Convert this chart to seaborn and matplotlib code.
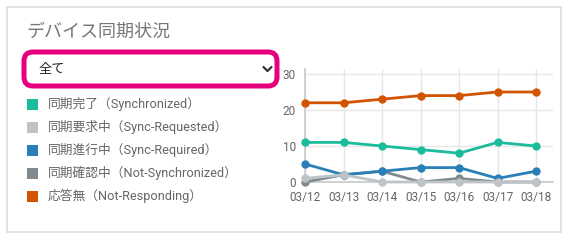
import matplotlib
matplotlib.use("Agg")
import matplotlib.pyplot as plt
import seaborn as sns
import pandas as pd
from matplotlib.patches import FancyBboxPatch, Rectangle

dates = ["03/12", "03/13", "03/14", "03/15", "03/16", "03/17", "03/18"]
series_names = [
    "同期完了（Synchronized）",
    "同期要求中（Sync-Requested）",
    "同期進行中（Sync-Required）",
    "同期確認中（Not-Synchronized）",
    "応答無（Not-Responding）",
]
synchronized = [11, 11, 10, 9, 8, 11, 10]
sync_requested = [1, 2, 0, 0, 0, 0, 0]
sync_required = [5, 2, 3, 4, 4, 1, 3]
not_synchronized = [0, 2, 3, 0, 1, 0, 0]
not_responding = [22, 22, 23, 24, 24, 25, 25]
colors = ["#1abc9c", "#bdc3c7", "#2980b9", "#7f8c8d", "#d35400"]
title = "デバイス同期状況"
dropdown_text = "全て"
y_ticks = [0, 10, 20, 30]

values = [synchronized, sync_requested, sync_required, not_synchronized, not_responding]
rows = []
for name, vals in zip(series_names, values):
    for i, (d, v) in enumerate(zip(dates, vals)):
        rows.append({"series": name, "idx": i, "date": d, "value": v})
df = pd.DataFrame(rows)

sns.set_theme(style="white")
plt.rcParams["font.family"] = ["Roboto", "Noto Sans CJK JP", "DejaVu Sans"]
MIX = ["Roboto", "Noto Sans CJK JP", "DejaVu Sans"]

W, H = 570, 240
fig = plt.figure(figsize=(5.7, 2.4), dpi=100)
fig.patch.set_facecolor("white")

# overlay axes in pixel coordinates
bg = fig.add_axes([0, 0, 1, 1])
bg.set_xlim(0, W)
bg.set_ylim(H, 0)
bg.axis("off")

# card border
bg.add_patch(Rectangle((6.5, 6.5), 554, 225, fill=False,
                       edgecolor="#dddddd", linewidth=1.2))

# title
bg.text(27, 32, title, fontsize=13, color="#777777", va="center", ha="left",
        family=["Noto Sans CJK JP", "DejaVu Sans"])

# dropdown
bg.add_patch(FancyBboxPatch((24, 52), 253, 34,
                            boxstyle="round,pad=0,rounding_size=9",
                            facecolor="white", edgecolor="#e6007e",
                            linewidth=3.6))
bg.text(39, 70, dropdown_text, fontsize=9.5, color="#222222",
        va="center", ha="left", family=["Noto Sans CJK JP", "DejaVu Sans"])
bg.plot([263.5, 267.5, 271.5], [67, 71, 67], color="#333333", linewidth=1.6,
        solid_capstyle="round", solid_joinstyle="round")

# legend
leg_y = [104, 127, 150, 173, 196]
for name, c, yy in zip(series_names, colors, leg_y):
    bg.add_patch(Rectangle((27, yy - 5.5), 11, 11, facecolor=c, edgecolor="none"))
    bg.text(48, yy, name, fontsize=9.2, color="#666666", va="center",
            ha="left", family=MIX)

# chart
ax = fig.add_axes([305 / W, 1 - 182 / H, (553 - 305) / W, (182 - 69) / H])
for k in list(range(len(series_names)))[::-1]:
    sub = df[df["series"] == series_names[k]]
    sns.lineplot(data=sub, x="idx", y="value", ax=ax, color=colors[k],
                 marker="o", markersize=6, markeredgewidth=0, linewidth=2,
                 legend=False, zorder=3 + (len(series_names) - k), clip_on=False)

ax.set_xlim(0, 6.44)
ax.set_ylim(0, 30 * 113 / 108)
ax.set_xticks(range(len(dates)))
ax.set_xticklabels(dates)
ax.set_yticks(y_ticks)
ax.set_xlabel("")
ax.set_ylabel("")
ax.grid(True, color="#e6e6e6", linewidth=1)
ax.set_axisbelow(True)
for s in ["top", "right"]:
    ax.spines[s].set_visible(False)
for s in ["left", "bottom"]:
    ax.spines[s].set_color("#c8c8c8")
    ax.spines[s].set_linewidth(1.2)
ax.tick_params(axis="both", length=4, color="#e0e0e0", width=1,
               labelcolor="#666666", labelsize=8.5, pad=2.5)
for lbl in ax.get_xticklabels() + ax.get_yticklabels():
    lbl.set_family(["Roboto", "DejaVu Sans"])

fig.savefig("out.png", dpi=100, facecolor="white")
